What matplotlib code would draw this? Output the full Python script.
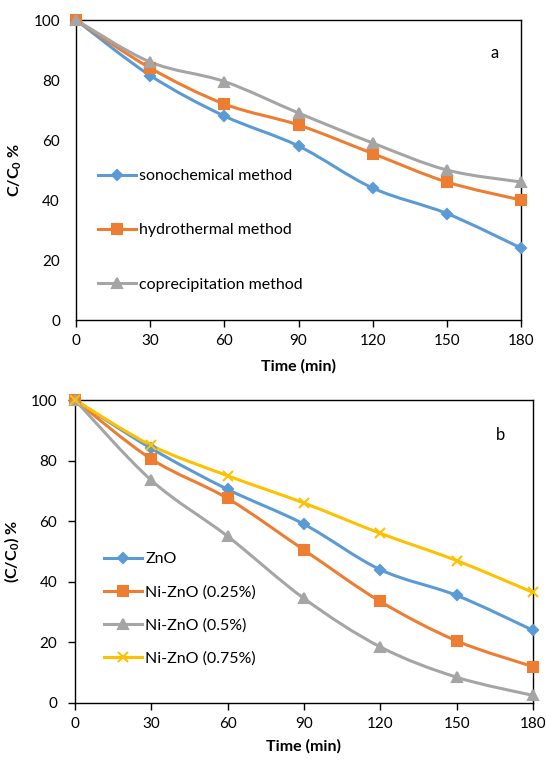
import numpy as np
import matplotlib
matplotlib.use("Agg")
import matplotlib.pyplot as plt
from matplotlib.path import Path
from matplotlib.patches import PathPatch
from matplotlib.lines import Line2D

plt.rcParams["font.family"] = ["Lato", "DejaVu Sans"]
plt.rcParams["mathtext.default"] = "regular"

# time axis (min)
time = [0, 30, 60, 90, 120, 150, 180]

# panel a: synthesis methods
sono = [100, 81.5, 68, 58, 44, 35.5, 24]
hydro = [100, 84, 72, 65, 55.5, 46, 40]
copre = [100, 86, 79.5, 69, 59, 50, 46]
labels_a = ["sonochemical method", "hydrothermal method", "coprecipitation method"]

# panel b: Ni doping
zno = [100, 84, 70.5, 59, 44, 35.5, 24]
ni025 = [100, 80.5, 67.5, 50.5, 33.5, 20.5, 12]
ni05 = [100, 73.5, 55, 34.5, 18.5, 8.5, 2.5]
ni075 = [100, 85, 75, 66, 56, 47, 36.5]
labels_b = ["ZnO", "Ni-ZnO (0.25%)", "Ni-ZnO (0.5%)", "Ni-ZnO (0.75%)"]

xticks = [0, 30, 60, 90, 120, 150, 180]
yticks = [0, 20, 40, 60, 80, 100]

blue, orange, gray, yellow = "#5B9BD5", "#ED7D31", "#A5A5A5", "#FFC000"


def smooth_path(x, y):
    # Excel-like smoothed line: cubic bezier through the data points
    x = np.asarray(x, float)
    y = np.asarray(y, float)
    n = len(x)
    verts = [(x[0], y[0])]
    codes = [Path.MOVETO]
    for i in range(n - 1):
        i0 = max(i - 1, 0)
        i3 = min(i + 2, n - 1)
        c1 = (x[i] + (x[i + 1] - x[i0]) / 6, y[i] + (y[i + 1] - y[i0]) / 6)
        c2 = (x[i + 1] - (x[i3] - x[i]) / 6, y[i + 1] - (y[i3] - y[i]) / 6)
        verts += [c1, c2, (x[i + 1], y[i + 1])]
        codes += [Path.CURVE4] * 3
    return Path(verts, codes)


def draw(ax, x, y, color, marker, ms):
    ax.add_patch(PathPatch(smooth_path(x, y), facecolor="none", edgecolor=color,
                           lw=2.2, capstyle="round", joinstyle="round", zorder=2))
    ax.plot(x, y, ls="none", marker=marker, ms=ms, color=color, mec=color,
            mew=1.5, clip_on=False, zorder=3)
    return Line2D([], [], color=color, lw=2.2, marker=marker, ms=ms, mec=color, mew=1.5)


def style(ax, ytick_len):
    ax.set_xlim(0, 180)
    ax.set_ylim(0, 100)
    ax.set_xticks(xticks)
    ax.set_yticks(yticks)
    for s in ax.spines.values():
        s.set_color("black")
        s.set_linewidth(1.0)
    ax.tick_params(axis="x", direction="out", length=5, width=1, labelsize=11, pad=5)
    ax.tick_params(axis="y", direction="out", length=ytick_len, width=1, labelsize=11,
                   pad=11.5 - ytick_len * 0.72)


fig = plt.figure(figsize=(5.46, 7.6), dpi=100)

# ---- panel a ----
ax1 = fig.add_axes([76 / 546, 1 - 320 / 760, 445 / 546, 300 / 760])
h1 = draw(ax1, time, sono, blue, "D", 5.5)
h2 = draw(ax1, time, hydro, orange, "s", 7)
h3 = draw(ax1, time, copre, gray, "^", 7.5)
style(ax1, 0)
ax1.set_xlabel("Time (min)", fontsize=11.5, fontweight="bold", labelpad=8)
ax1.set_ylabel("C/C$_0$ %", fontsize=11.5, fontweight="bold", labelpad=7)
ax1.text(0.94, 0.89, "a", transform=ax1.transAxes, fontsize=12, ha="center", va="center")
ax1.legend([h1, h2, h3], labels_a, loc="upper left", bbox_to_anchor=(0.049, 0.503),
           frameon=False, fontsize=11.5, handlelength=2.4, handletextpad=0.2,
           labelspacing=2.5, borderpad=0, borderaxespad=0)

# ---- panel b ----
ax2 = fig.add_axes([75 / 546, 1 - 703 / 760, 458 / 546, 303 / 760])
g1 = draw(ax2, time, zno, blue, "D", 5.5)
g2 = draw(ax2, time, ni025, orange, "s", 7)
g3 = draw(ax2, time, ni05, gray, "^", 7.5)
g4 = draw(ax2, time, ni075, yellow, "x", 7)
style(ax2, 5)
ax2.set_xlabel("Time (min)", fontsize=11.5, fontweight="bold", labelpad=6)
ax2.set_ylabel("(C/C$_0$) %", fontsize=11.5, fontweight="bold", labelpad=7)
ax2.text(0.93, 0.885, "b", transform=ax2.transAxes, fontsize=12, ha="center", va="center")
ax2.legend([g1, g2, g3, g4], labels_b, loc="upper left", bbox_to_anchor=(0.063, 0.498),
           frameon=False, fontsize=11.5, handlelength=2.4, handletextpad=0.2,
           labelspacing=1.17, borderpad=0, borderaxespad=0)

fig.savefig("out.png", dpi=100)
